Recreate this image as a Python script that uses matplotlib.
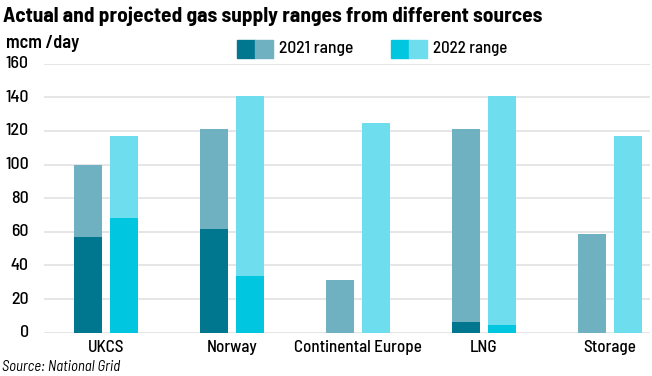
import matplotlib
matplotlib.use("Agg")
import matplotlib.pyplot as plt
from matplotlib.patches import Rectangle
import numpy as np
from matplotlib import font_manager

names = {f.name for f in font_manager.fontManager.ttflist}
FONT = next((n for n in ["Barlow Semi Condensed", "Roboto Condensed", "PT Sans Narrow"] if n in names), "DejaVu Sans")
plt.rcParams["font.family"] = [FONT, "DejaVu Sans"]

categories = ["UKCS", "Norway", "Continental Europe", "LNG", "Storage"]
low_2021 = [57, 61.5, 0, 6.2, 0]
high_2021 = [100, 121, 31.5, 121, 58.5]
low_2022 = [68, 33.5, 0, 4.6, 0]
high_2022 = [117, 140.6, 124.7, 140.6, 116.7]
yticks = [0, 20, 40, 60, 80, 100, 120, 140, 160]

c21_dark, c21_light = "#00768F", "#6FB1C1"
c22_dark, c22_light = "#00C6E0", "#6EDEEE"

fig = plt.figure(figsize=(6.52, 3.76), dpi=100)
ax = fig.add_axes([0.0675, 0.115, 0.93, 0.716])

x = np.arange(len(categories))
w = 0.222
off = 0.143
lo21 = np.array(low_2021); hi21 = np.array(high_2021)
lo22 = np.array(low_2022); hi22 = np.array(high_2022)
ax.bar(x - off, lo21, w, color=c21_dark, zorder=3)
ax.bar(x - off, hi21 - lo21, w, bottom=lo21, color=c21_light, zorder=3)
ax.bar(x + off, lo22, w, color=c22_dark, zorder=3)
ax.bar(x + off, hi22 - lo22, w, bottom=lo22, color=c22_light, zorder=3)

ax.set_xlim(-0.49, 4.32)
ax.set_ylim(0, 160)
ax.set_yticks(yticks)
ax.set_yticklabels([str(t) for t in yticks], fontsize=12, fontweight="medium",
                   va="center")
ax.set_xticks(x)
ax.set_xticklabels(categories, fontsize=12.5, fontweight="medium")
ax.tick_params(axis="both", length=0, colors="black")
ax.tick_params(axis="y", pad=11)
ax.tick_params(axis="x", pad=5)
ax.grid(axis="y", color="#E4E4E4", linewidth=1.3, zorder=0)
for s in ax.spines.values():
    s.set_visible(False)

title = fig.text(0.004, 0.958, "Actual and projected gas supply ranges from different sources",
                 fontsize=15, fontweight="bold", va="center", ha="left")
unit = fig.text(0.009, 0.884, "mcm /day", fontsize=13, fontweight="semibold", va="center", ha="left")
src = fig.text(0.003, 0.024, "Source: National Grid", fontsize=11, style="italic", va="center", ha="left")

H = 376.0; W = 652.0
leg_texts = []
def legpatch(x0, c1, c2, label):
    y0 = 1 - 58 / H
    h = 18 / H
    fig.patches.append(Rectangle((x0 / W, y0), 18 / W, h, transform=fig.transFigure,
                                 color=c1, figure=fig))
    fig.patches.append(Rectangle(((x0 + 18) / W, y0), 18 / W, h, transform=fig.transFigure,
                                 color=c2, figure=fig))
    leg_texts.append(fig.text((x0 + 42) / W, y0 + h / 2, label, fontsize=13,
                              fontweight="medium", va="center", ha="left"))

legpatch(237, c21_dark, c21_light, "2021 range")
legpatch(391, c22_dark, c22_light, "2022 range")

# fit font sizes to reference text widths (pixels)
fig.canvas.draw()
r = fig.canvas.get_renderer()
def fit(t, target):
    wpx = t.get_window_extent(r).width
    t.set_fontsize(t.get_fontsize() * target / wpx)
fit(title, 540)
fit(unit, 73)
fit(src, 118)
for t in leg_texts:
    fit(t, 74)
xl = ax.get_xticklabels()
ce = xl[2].get_window_extent(r).width
sx = xl[2].get_fontsize() * 128 / ce
for t in xl:
    t.set_fontsize(sx)
yl = ax.get_yticklabels()
y160 = yl[-1].get_window_extent(r).width
sy = yl[-1].get_fontsize() * 23 / y160
for t in yl:
    t.set_fontsize(sy)

fig.savefig("out.png", dpi=100)
